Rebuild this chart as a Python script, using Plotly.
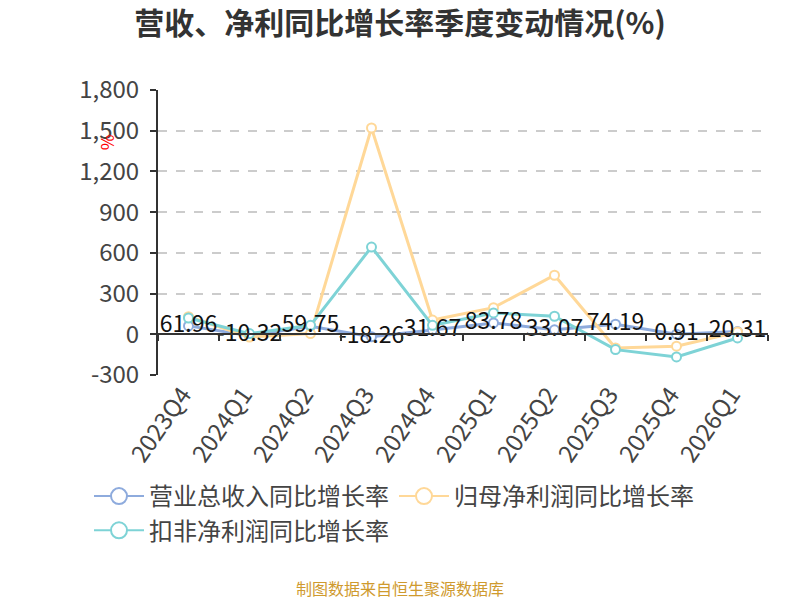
import plotly.graph_objects as go

quarters = ["2023Q4", "2024Q1", "2024Q2", "2024Q3", "2024Q4",
            "2025Q1", "2025Q2", "2025Q3", "2025Q4", "2026Q1"]
revenue_yoy = [61.96, -10.32, 59.75, -18.26, 31.67, 83.78, 33.07, 74.19, 0.91, 20.31]
netprofit_yoy = [130, -20, 5, 1520, 105, 196, 435, -101, -88, 17]
deducted_yoy = [120, 5, 66, 643, 66, 157, 133, -113, -167, -27]
y_ticks = [-300, 0, 300, 600, 900, 1200, 1500, 1800]

FONT = "Noto Sans CJK SC"
BLUE = "#8eabdd"
ORANGE = "#ffd898"
CYAN = "#7ed3d6"

fig = go.Figure()

series = [
    ("营业总收入同比增长率", revenue_yoy, BLUE),
    ("归母净利润同比增长率", netprofit_yoy, ORANGE),
    ("扣非净利润同比增长率", deducted_yoy, CYAN),
]
for name, vals, color in series:
    fig.add_trace(go.Scatter(
        x=quarters, y=vals, name=name,
        mode="lines+markers",
        line=dict(color=color, width=3),
        marker=dict(size=9, color="white", line=dict(color=color, width=2)),
        hoverinfo="x+y", showlegend=False,
    ))
    # legend entry only (bigger hollow circle like the original)
    fig.add_trace(go.Scatter(
        x=[None], y=[None], name=name,
        mode="lines+markers",
        line=dict(color=color, width=2),
        marker=dict(size=18, color="white", line=dict(color=color, width=2)),
        hoverinfo="skip",
    ))

# value labels for revenue series
fig.add_trace(go.Scatter(
    x=quarters, y=revenue_yoy, mode="text",
    text=[f"{v:.2f}" for v in revenue_yoy],
    textposition="middle center",
    textfont=dict(family=FONT, size=23, color="#111"),
    showlegend=False, hoverinfo="skip",
))

# axis line through zero with boundary ticks
fig.add_trace(go.Scatter(
    x=quarters, y=[None] * len(quarters), xaxis="x2",
    showlegend=False, hoverinfo="skip",
))

zero_pos = (0 - y_ticks[0]) / (y_ticks[-1] - y_ticks[0])

fig.update_layout(
    width=800, height=600,
    margin=dict(l=158, r=32, t=90, b=225),
    paper_bgcolor="white", plot_bgcolor="white",
    font=dict(family=FONT, color="#444"),
    title=dict(
        text="<b>营收、净利同比增长率季度变动情况(%)</b>",
        font=dict(family=FONT, size=30, color="#333"),
        x=0.5, xanchor="center", xref="container",
        y=1 - 23 / 600, yanchor="middle", yref="container",
    ),
    xaxis=dict(
        type="category", categoryorder="array", categoryarray=quarters,
        range=[-0.5, len(quarters) - 0.5],
        showline=False, showgrid=False, zeroline=False,
        ticks="", tickangle=-55, automargin=False, ticklabelshift=-6,
        tickfont=dict(family=FONT, size=24, color="#444"),
    ),
    xaxis2=dict(
        type="category", categoryorder="array", categoryarray=quarters,
        overlaying="x", matches="x", anchor="free", position=zero_pos,
        showline=True, linecolor="#333", linewidth=2,
        ticks="outside", tickson="boundaries", ticklen=6, tickcolor="#333", tickwidth=2,
        showticklabels=False, showgrid=False, zeroline=False, automargin=False,
    ),
    yaxis=dict(
        range=[y_ticks[0], y_ticks[-1]],
        tickmode="array", tickvals=y_ticks,
        ticktext=[f"{v:,}" for v in y_ticks],
        showline=True, linecolor="#333", linewidth=2,
        ticks="outside", ticklen=6, tickcolor="#333", tickwidth=2,
        ticklabelstandoff=6, automargin=False,
        showgrid=True, gridcolor="#cccccc", griddash="dash", gridwidth=1.5,
        zeroline=False,
        tickfont=dict(family=FONT, size=24, color="#444"),
    ),
    legend=dict(
        orientation="h", xref="container", yref="container",
        x=0.5 - 6 / 800, xanchor="center", y=1 - 474 / 600, yanchor="top",
        font=dict(family=FONT, size=24, color="#444"),
        itemwidth=50, tracegroupgap=0,
    ),
    annotations=[
        dict(text="%", xref="paper", yref="paper",
             x=(94 - 158) / 610, y=(375 - 132) / 285,
             showarrow=False, textangle=90,
             font=dict(family=FONT, size=17, color="red")),
        dict(text="制图数据来自恒生聚源数据库", xref="paper", yref="paper",
             x=(400 - 158) / 610, y=(375 - 588) / 285, yanchor="middle",
             showarrow=False,
             font=dict(family=FONT, size=16, color="#cf9a2e")),
    ],
)

# drop the browser's default 8px body margin so the figure sits at (0, 0)
fig.write_html("out.html", config={"displayModeBar": False},
               post_script="document.body.style.margin='0';")
